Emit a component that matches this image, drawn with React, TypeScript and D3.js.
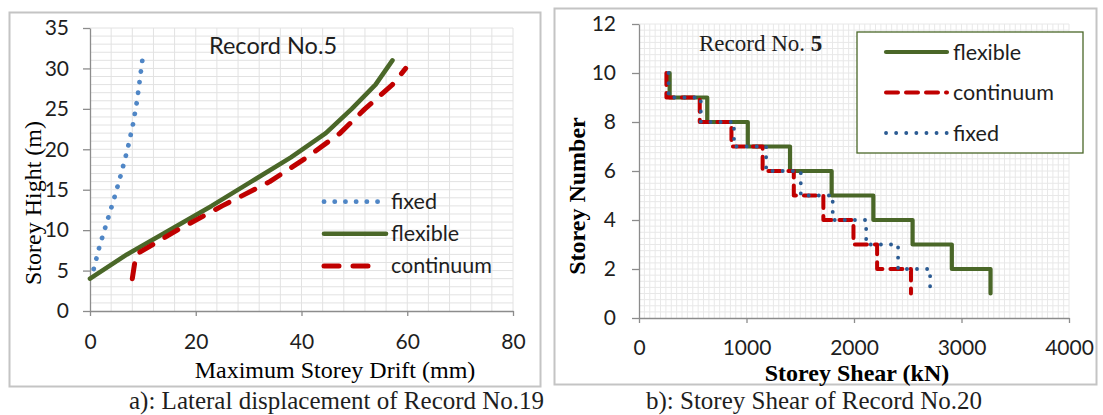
import React, { useEffect, useRef } from 'react';
import * as d3 from 'd3';

// a) lateral displacement (drift in mm vs height in m)
const fixedHeight = [5.2, 8, 11, 14, 17, 20, 23, 26, 28.5, 31];
const fixedDrift = [0.7, 1.8, 3.2, 4.6, 5.9, 7.1, 8.1, 8.9, 9.4, 9.9];
const flexibleHeight = [4, 7, 10, 13, 16, 19, 22, 25, 28, 31];
const flexibleDrift = [0, 7, 15, 23, 30.5, 38, 44.6, 49.5, 54, 57.2];
const continuumHeight = [4, 7, 10, 13, 16, 19, 22, 25, 28, 30];
const continuumDrift = [8, 8.7, 16.5, 25, 34, 41, 47.3, 52, 57.2, 59.7];
const driftTicks = [0, 20, 40, 60, 80];
const heightTicks = [0, 5, 10, 15, 20, 25, 30, 35];

// b) storey shear (kN) per storey
const storeyLevels = [10, 9, 8, 7, 6, 5, 4, 3, 2, 1];
const flexibleShear = [285, 635, 1012, 1405, 1792, 2180, 2545, 2910, 3270];
const continuumShear = [255, 565, 860, 1150, 1440, 1715, 1995, 2215, 2530];
const fixedShear = [275, 575, 884, 1183, 1505, 1802, 2113, 2410, 2708];
const shearTicks = [0, 1000, 2000, 3000, 4000];
const storeyTicks = [0, 2, 4, 6, 8, 10, 12];

const GREEN = '#4a6728';
const RED = '#c00000';
const SANS = 'Lato, sans-serif';
const SERIF = '"Liberation Serif", serif';

const App = () => {
  const svgRef = useRef(null);

  useEffect(() => {
    const svg = d3.select(svgRef.current);
    svg.selectAll('*').remove();

    // panel frames
    svg.append('rect').attr('x', 9.5).attr('y', 12.5).attr('width', 531).attr('height', 374)
      .attr('fill', 'white').attr('stroke', '#c4c4c4').attr('stroke-width', 2);
    svg.append('rect').attr('x', 554.5).attr('y', 8.5).attr('width', 542).attr('height', 376)
      .attr('fill', 'white').attr('stroke', '#c4c4c4').attr('stroke-width', 2);

    const styleAxis = (g, bottom) => {
      g.select('.domain').attr('stroke', '#8c8c8c').attr('stroke-width', 1.3);
      g.selectAll('.tick line').attr('stroke', '#8c8c8c').attr('stroke-width', 1.3);
      g.selectAll('text').style('font-family', SANS).style('font-size', '21px').attr('fill', '#1e1e1e');
      if (bottom) g.selectAll('text').attr('dy', '0.35em');
    };

    // ---------- left: lateral displacement ----------
    const x1 = d3.scaleLinear().domain([0, 80]).range([90, 513]);
    const y1 = d3.scaleLinear().domain([0, 35]).range([311, 28]);
    const left = svg.append('g');

    left.append('g').selectAll('line').data(d3.range(4, 80.1, 4)).enter().append('line')
      .attr('x1', (d) => x1(d)).attr('x2', (d) => x1(d)).attr('y1', y1(0)).attr('y2', y1(35))
      .attr('stroke', '#e2e2e2');
    left.append('g').selectAll('line').data(d3.range(1, 35.1, 1)).enter().append('line')
      .attr('x1', x1(0)).attr('x2', x1(80)).attr('y1', (d) => y1(d)).attr('y2', (d) => y1(d))
      .attr('stroke', '#e2e2e2');

    left.append('g').attr('transform', `translate(0,${y1(0)})`)
      .call(d3.axisBottom(x1).tickValues(driftTicks).tickSize(5).tickSizeOuter(0).tickPadding(26))
      .call((g) => styleAxis(g, true));
    left.append('g').attr('transform', `translate(${x1(0)},0)`)
      .call(d3.axisLeft(y1).tickValues(heightTicks).tickSize(7).tickSizeOuter(0).tickPadding(14))
      .call((g) => styleAxis(g, false));

    const driftLine = d3.line().x((d) => x1(d[0])).y((d) => y1(d[1]));
    const leftSeries = [
      { key: 'fixed', pts: d3.zip(fixedDrift, fixedHeight), color: '#4f86c6', width: 4.8, dash: '0.1 10.6' },
      { key: 'flexible', pts: d3.zip(flexibleDrift, flexibleHeight), color: GREEN, width: 4.6, dash: null },
      { key: 'continuum', pts: d3.zip(continuumDrift, continuumHeight), color: RED, width: 5, dash: '15 14' },
    ];
    leftSeries.forEach((s) => {
      left.append('path').attr('d', driftLine(s.pts)).attr('fill', 'none')
        .attr('stroke', s.color).attr('stroke-width', s.width)
        .attr('stroke-linecap', 'round').attr('stroke-linejoin', 'round')
        .attr('stroke-dasharray', s.dash);
    });

    leftSeries.forEach((s, i) => {
      const y = 201.7 + i * 32.1;
      left.append('line').attr('x1', 324).attr('x2', s.dash ? 382 : 386).attr('y1', y).attr('y2', y)
        .attr('stroke', s.color).attr('stroke-width', s.width)
        .attr('stroke-linecap', 'round').attr('stroke-dasharray', s.dash);
      left.append('text').attr('x', 391).attr('y', y).attr('dy', '0.35em').text(s.key)
        .style('font-family', SANS).style('font-size', '21.5px').attr('fill', '#1e1e1e');
    });

    left.append('text').attr('x', 209).attr('y', 46).attr('dy', '0.35em').text('Record No.5')
      .style('font-family', SANS).style('font-size', '23.5px').attr('fill', '#1e1e1e');
    left.append('text').attr('x', 335).attr('y', 370).attr('dy', '0.35em').attr('text-anchor', 'middle')
      .text('Maximum Storey Drift (mm)').style('font-family', SERIF).style('font-size', '24px');
    left.append('text').attr('transform', 'translate(33,203) rotate(-90)').attr('dy', '0.35em')
      .attr('text-anchor', 'middle').text('Storey Hight (m)')
      .style('font-family', SERIF).style('font-size', '24px');

    // ---------- right: storey shear ----------
    const x2 = d3.scaleLinear().domain([0, 4000]).range([639, 1069]);
    const y2 = d3.scaleLinear().domain([0, 12]).range([318, 24]);
    const right = svg.append('g');

    right.append('g').selectAll('line').data(d3.range(50, 4000.1, 50)).enter().append('line')
      .attr('x1', (d) => x2(d)).attr('x2', (d) => x2(d)).attr('y1', y2(0)).attr('y2', y2(12))
      .attr('stroke', '#e8e8e8');
    right.append('g').selectAll('line').data(d3.range(0.25, 12.01, 0.25)).enter().append('line')
      .attr('x1', x2(0)).attr('x2', x2(4000)).attr('y1', (d) => y2(d)).attr('y2', (d) => y2(d))
      .attr('stroke', '#e8e8e8');

    right.append('g').attr('transform', `translate(0,${y2(0)})`)
      .call(d3.axisBottom(x2).tickValues(shearTicks).tickFormat(d3.format('d'))
        .tickSize(5).tickSizeOuter(0).tickPadding(25))
      .call((g) => styleAxis(g, true));
    right.append('g').attr('transform', `translate(${x2(0)},0)`)
      .call(d3.axisLeft(y2).tickValues(storeyTicks).tickSize(7).tickSizeOuter(0).tickPadding(16))
      .call((g) => styleAxis(g, false));

    const stepPoints = (shear) => {
      const pts = [];
      shear.forEach((v, i) => {
        pts.push([v, storeyLevels[i]]);
        pts.push([v, storeyLevels[i + 1]]);
      });
      return pts;
    };
    const shearLine = d3.line().x((d) => x2(d[0])).y((d) => y2(d[1]));
    const rightSeries = [
      { key: 'flexible', shear: flexibleShear, color: GREEN, width: 4.2, dash: null },
      { key: 'continuum', shear: continuumShear, color: RED, width: 4, dash: '12 8' },
      { key: 'fixed', shear: fixedShear, color: '#2b5b93', width: 3.8, dash: '0.1 10' },
    ];
    rightSeries.forEach((s) => {
      right.append('path').attr('d', shearLine(stepPoints(s.shear))).attr('fill', 'none')
        .attr('stroke', s.color).attr('stroke-width', s.width)
        .attr('stroke-linecap', 'round').attr('stroke-linejoin', 'round')
        .attr('stroke-dasharray', s.dash);
    });

    right.append('rect').attr('x', 857).attr('y', 32).attr('width', 226).attr('height', 121)
      .attr('fill', 'white').attr('stroke', GREEN).attr('stroke-width', 1.3);
    rightSeries.forEach((s, i) => {
      const y = 52 + i * 40.5;
      right.append('line').attr('x1', 886).attr('x2', 947).attr('y1', y).attr('y2', y)
        .attr('stroke', s.color).attr('stroke-width', s.width)
        .attr('stroke-linecap', 'round').attr('stroke-dasharray', s.dash);
      right.append('text').attr('x', 953).attr('y', y).attr('dy', '0.35em').text(s.key)
        .style('font-family', SANS).style('font-size', '21.5px').attr('fill', '#1e1e1e');
    });

    const rec = right.append('text').attr('x', 699).attr('y', 43).attr('dy', '0.35em')
      .style('font-family', SERIF).style('font-size', '23px').attr('fill', '#1e1e1e');
    rec.append('tspan').text('Record No. ');
    rec.append('tspan').text('5').attr('font-weight', 'bold');

    right.append('text').attr('x', 857).attr('y', 373).attr('dy', '0.35em').attr('text-anchor', 'middle')
      .text('Storey Shear (kN)').style('font-family', SERIF).style('font-size', '24px').attr('font-weight', 'bold');
    right.append('text').attr('transform', 'translate(577,196) rotate(-90)').attr('dy', '0.35em')
      .attr('text-anchor', 'middle').text('Storey Number')
      .style('font-family', SERIF).style('font-size', '24px').attr('font-weight', 'bold');

    // captions
    svg.append('text').attr('x', 129).attr('y', 400).attr('dy', '0.35em')
      .text('a): Lateral displacement of Record No.19')
      .style('font-family', SERIF).style('font-size', '25px').attr('fill', '#1e1e1e');
    svg.append('text').attr('x', 646).attr('y', 400).attr('dy', '0.35em')
      .text('b): Storey Shear of Record No.20')
      .style('font-family', SERIF).style('font-size', '25px').attr('fill', '#1e1e1e');
  }, []);

  return (
    <svg ref={svgRef} width={1103} height={415}
      style={{ position: 'absolute', left: 0, top: 0, background: 'white', display: 'block' }} />
  );
};

export default App;
